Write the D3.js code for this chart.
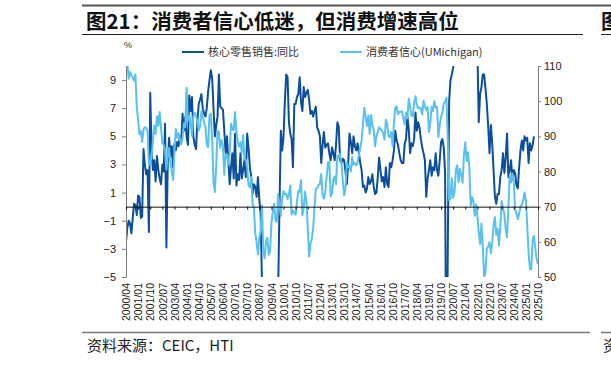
<!DOCTYPE html>
<html>
<head>
<meta charset="utf-8">
<script src="https://cdn.jsdelivr.net/npm/d3@7"></script>
<style>
body{margin:0;background:#fff;}
svg{display:block;}
</style>
</head>
<body>
<svg id="chart" width="611" height="367"></svg>
<script>
var seriesNames = ["核心零售销售:同比", "消费者信心(UMichigan)"];
var leftTicks = [-5, -3, -1, 1, 3, 5, 7, 9];
var rightTicks = [50, 60, 70, 80, 90, 100, 110];

// core retail sales yoy, %, monthly from 2000/04 (last point 2025/07)
var coreRetail = [
	-2.5,-1.5,-1.0,-1.2,-1.9,-0.8,0.2,0.1,-0.6,0.8,
	0.7,-0.8,-0.7,4.1,3.0,2.3,2.6,-1.8,8.1,4.0,
	2.6,3.3,1.8,3.6,2.6,2.0,1.6,3.0,2.5,5.9,
	-2.9,3.0,4.9,3.6,4.3,2.8,4.5,4.0,4.6,4.3,
	5.0,4.6,6.6,5.4,6.4,5.0,4.4,7.9,6.8,7.8,
	5.0,4.4,4.1,6.0,7.3,7.6,8.0,7.0,6.6,6.4,
	7.0,8.2,9.0,9.7,9.1,7.0,5.0,5.8,6.4,9.4,
	7.1,7.0,6.9,5.4,3.8,5.0,3.3,1.6,2.8,3.8,
	2.0,5.2,1.5,2.3,1.9,3.8,2.0,2.6,3.3,2.1,
	5.2,4.2,2.8,2.1,0.9,1.6,1.4,0.7,2.1,0.5,
	-0.5,-5.5,-8,-9,-10,-11,-11,-10,-10,-9,
	-8,-8,-9,-6,0,5.4,4.0,5.0,7.5,9.4,
	9.2,6.0,5.2,4.8,2.8,7.3,7.3,7.8,8.0,9.2,
	7.4,6.8,8.5,7.8,8.1,8.3,7.6,6.6,6.8,6.4,
	6.8,7.1,5.6,5.4,5.0,3.1,4.4,5.3,4.2,4.4,
	4.5,3.8,3.3,4.2,3.8,3.3,4.4,6.0,5.7,3.3,
	3.1,3.4,3.3,2.5,1.6,3.0,5.2,4.6,3.8,5.0,
	4.3,4.0,4.5,3.8,3.1,2.6,1.4,1.5,1.0,1.3,
	2.1,1.6,1.8,2.3,1.4,0.9,1.0,2.1,3.5,2.6,
	1.8,2.1,1.4,2.8,1.6,1.4,3.1,2.8,3.3,4.0,
	5.4,4.7,4.4,3.8,3.3,3.1,3.1,4.5,4.8,6.4,
	5.5,3.8,4.5,4.3,4.8,6.7,5.4,6.0,5.6,4.8,
	4.2,3.8,3.3,0.7,2.0,2.6,3.3,2.2,2.8,2.6,
	3.8,2.6,2.2,3.3,4.6,4.8,4.2,2.4,-16,-3,
	7.5,9.0,9.4,9.9,10.5,20,30,24,18,16,
	15,14,15,13,14,13,12,13,12,11.5,
	11,11,6.0,8.0,8.5,9.4,9.4,8.4,7.3,5.7,
	3.8,5.8,4.5,2.6,0.7,0.2,0.9,0.9,2.1,2.6,
	3.8,2.4,3.5,5.2,2.1,2.6,3.3,1.9,2.6,2.4,
	1.5,1.3,2.8,4.0,4.7,4.0,5.0,4.7,4.9,3.1,
	4.5,4.0,4.4,5.0
];

// UMichigan consumer sentiment, monthly from 2000/04 to 2025/10
var sentiment = [
	109.2,110.7,106.4,108.3,107.3,106.8,105.8,107.6,98.4,
	94.7,90.6,91.5,88.4,92.0,92.6,92.4,91.5,81.8,82.7,83.9,88.8,
	93.0,90.7,95.7,93.0,96.9,92.4,88.1,87.6,86.1,80.6,84.2,86.7,
	82.4,79.9,77.6,86.0,92.1,89.7,90.9,89.3,87.7,89.6,93.7,92.6,
	103.8,94.4,95.8,94.2,90.2,95.6,96.7,95.9,94.2,91.7,92.8,97.1,
	95.5,94.1,92.6,87.7,86.9,96.0,96.5,89.1,76.9,74.2,81.6,91.5,
	91.2,86.7,88.9,87.4,79.1,84.9,84.7,82.0,85.4,93.6,92.1,91.7,
	96.9,91.3,88.4,87.1,88.3,85.3,90.4,83.4,83.4,80.9,76.1,75.5,
	78.4,70.8,69.5,62.6,59.8,56.4,61.2,63.0,70.3,57.6,55.3,60.1,
	61.2,56.3,57.3,65.1,68.7,70.8,66.0,65.7,73.5,70.6,67.4,72.5,
	74.4,73.6,73.6,72.2,73.6,76.0,67.8,68.9,68.2,67.7,71.6,74.5,
	74.2,77.5,67.5,69.8,74.3,71.5,63.7,55.8,59.5,60.8,63.7,69.9,
	75.0,75.3,76.2,76.4,79.3,73.2,72.3,74.3,78.3,82.6,82.7,72.9,
	73.8,77.6,78.6,76.4,84.5,84.1,85.1,82.1,77.5,73.2,75.1,82.5,
	81.2,81.6,80.0,84.1,81.9,82.5,81.8,82.5,84.6,86.9,88.8,93.6,
	98.1,95.4,93.0,95.9,90.7,96.1,93.1,91.9,87.2,90.0,91.3,92.6,
	92.0,91.7,91.0,89.0,94.7,93.5,90.0,89.8,91.2,87.2,93.8,98.2,
	98.5,96.3,96.9,97.0,97.1,95.1,93.4,96.8,95.1,100.7,98.5,95.9,
	95.7,99.7,101.4,98.8,98.0,98.2,97.9,96.2,100.1,98.6,97.5,98.3,
	91.2,93.8,98.4,97.2,100.0,98.2,98.4,89.8,93.2,95.5,96.8,99.3,
	99.8,101.0,89.1,71.8,72.3,78.1,72.5,74.1,80.4,81.8,76.9,80.7,
	79.0,76.8,84.9,88.3,82.9,85.5,81.2,70.3,72.8,71.7,67.4,70.6,
	67.2,62.8,59.4,65.2,58.4,50.0,51.5,58.2,58.6,59.9,56.8,59.7,
	64.9,67.0,62.0,63.7,59.0,64.2,71.6,69.5,67.9,63.8,61.3,69.7,
	79.0,76.9,79.4,77.2,69.1,68.2,66.4,67.9,70.1,70.5,71.8,74.0,
	71.7,64.7,57.0,52.2,52.2,60.7,61.7,58.2,55.1,53.6
];

var months = [];
for (var yr = 2000; yr <= 2025; yr++) {
	for (var mo = 1; mo <= 12; mo++) {
		if (yr == 2000 && mo < 4) continue;
		if (yr == 2025 && mo > 10) continue;
		months.push(yr + "/" + (mo < 10 ? "0" + mo : mo));
	}
}
var tickMonths = months.filter(function(d, i){ return i % 9 == 0; });

var cjk = "'Noto Sans CJK SC', sans-serif";
var latin = "'Liberation Sans', Arial, sans-serif";
var darkBlue = "#0b4f9c", lightBlue = "#58c1ee";

var svg = d3.select("#chart");
var plotL = 126, plotR = 538, plotT = 66, plotB = 277;

var x = d3.scalePoint().domain(months).range([plotL, plotR]);
var yL = d3.scaleLinear().domain([-5, 10]).range([plotB, plotT]);
var yR = d3.scaleLinear().domain([50, 110]).range([plotB, plotT]);

// frame: title block
svg.append("line").attr("x1", 82).attr("x2", 611).attr("y1", 5.5).attr("y2", 5.5)
	.attr("stroke", "#555").attr("stroke-width", 2);
svg.append("text").attr("x", 86).attr("y", 29)
	.attr("font-family", cjk).attr("font-weight", 700).attr("font-size", 20.5)
	.attr("fill", "#111").text("图21：消费者信心低迷，但消费增速高位");
svg.append("line").attr("x1", 82).attr("x2", 583).attr("y1", 34.5).attr("y2", 34.5)
	.attr("stroke", "#222").attr("stroke-width", 1);
svg.append("text").attr("x", 601).attr("y", 29)
	.attr("font-family", cjk).attr("font-weight", 700).attr("font-size", 20.5)
	.attr("fill", "#111").text("图");
svg.append("line").attr("x1", 601).attr("x2", 611).attr("y1", 34.5).attr("y2", 34.5)
	.attr("stroke", "#222").attr("stroke-width", 1);

// legend
var legend = svg.append("g").attr("font-family", cjk).attr("font-size", 11).attr("fill", "#333");
[[182, darkBlue], [340, lightBlue]].forEach(function(d, i){
	legend.append("line").attr("x1", d[0]).attr("x2", d[0] + 22).attr("y1", 52).attr("y2", 52)
		.attr("stroke", d[1]).attr("stroke-width", 2);
	legend.append("text").attr("x", d[0] + 26).attr("y", 56).text(seriesNames[i]);
});
svg.append("text").attr("x", 128).attr("y", 48).attr("text-anchor", "middle")
	.attr("font-family", latin).attr("font-size", 9).attr("fill", "#333").text("%");

// lines
svg.append("clipPath").attr("id", "plot")
	.append("rect").attr("x", plotL).attr("y", plotT).attr("width", plotR - plotL).attr("height", plotB - plotT);

var lineL = d3.line().x(function(d, i){ return x(months[i]); }).y(function(d){ return yL(d); });
var lineR = d3.line().x(function(d, i){ return x(months[i]); }).y(function(d){ return yR(d); });

var plot = svg.append("g").attr("clip-path", "url(#plot)");
plot.append("path").datum(coreRetail).attr("d", lineL)
	.attr("fill", "none").attr("stroke", darkBlue).attr("stroke-width", 2).attr("stroke-linejoin", "round");
plot.append("path").datum(sentiment).attr("d", lineR)
	.attr("fill", "none").attr("stroke", lightBlue).attr("stroke-width", 2).attr("stroke-linejoin", "round");

// axes
function styleAxis(g, color){
	g.selectAll("path.domain").attr("stroke", color);
	g.selectAll(".tick line").attr("stroke", color);
	g.selectAll("text").attr("fill", "#222").attr("font-family", latin).attr("font-size", 11);
}

svg.append("g").attr("transform", "translate(" + plotL + ",0)")
	.call(d3.axisLeft(yL).tickValues(leftTicks).tickSize(4).tickSizeOuter(0).tickPadding(6))
	.call(styleAxis, "#808080");

svg.append("g").attr("transform", "translate(" + plotR + ",0)")
	.call(d3.axisRight(yR).tickValues(rightTicks).tickSize(3).tickSizeOuter(0).tickPadding(3))
	.call(styleAxis, "#808080");

svg.append("g").attr("transform", "translate(0," + yL(0) + ")")
	.call(d3.axisBottom(x).tickValues(tickMonths).tickSize(3).tickSizeOuter(0).tickFormat(""))
	.call(styleAxis, "#111");

var xl = svg.append("g").attr("transform", "translate(0," + plotB + ")")
	.call(d3.axisBottom(x).tickValues(tickMonths).tickSize(0));
xl.select("path.domain").remove();
xl.selectAll("text")
	.attr("transform", "rotate(-90)")
	.attr("text-anchor", "end")
	.attr("x", -6).attr("y", 0).attr("dy", "0.35em")
	.attr("fill", "#222").attr("font-family", latin).attr("font-size", 10.5);

// source
svg.append("line").attr("x1", 82).attr("x2", 590).attr("y1", 332.5).attr("y2", 332.5)
	.attr("stroke", "#777").attr("stroke-width", 1.5);
svg.append("line").attr("x1", 601).attr("x2", 611).attr("y1", 332.5).attr("y2", 332.5)
	.attr("stroke", "#777").attr("stroke-width", 1.5);
svg.append("text").attr("x", 87).attr("y", 351)
	.attr("font-family", cjk).attr("font-size", 15).attr("fill", "#222").text("资料来源：CEIC，HTI");
svg.append("text").attr("x", 603).attr("y", 351)
	.attr("font-family", cjk).attr("font-size", 15).attr("fill", "#222").text("资");
</script>
</body>
</html>
